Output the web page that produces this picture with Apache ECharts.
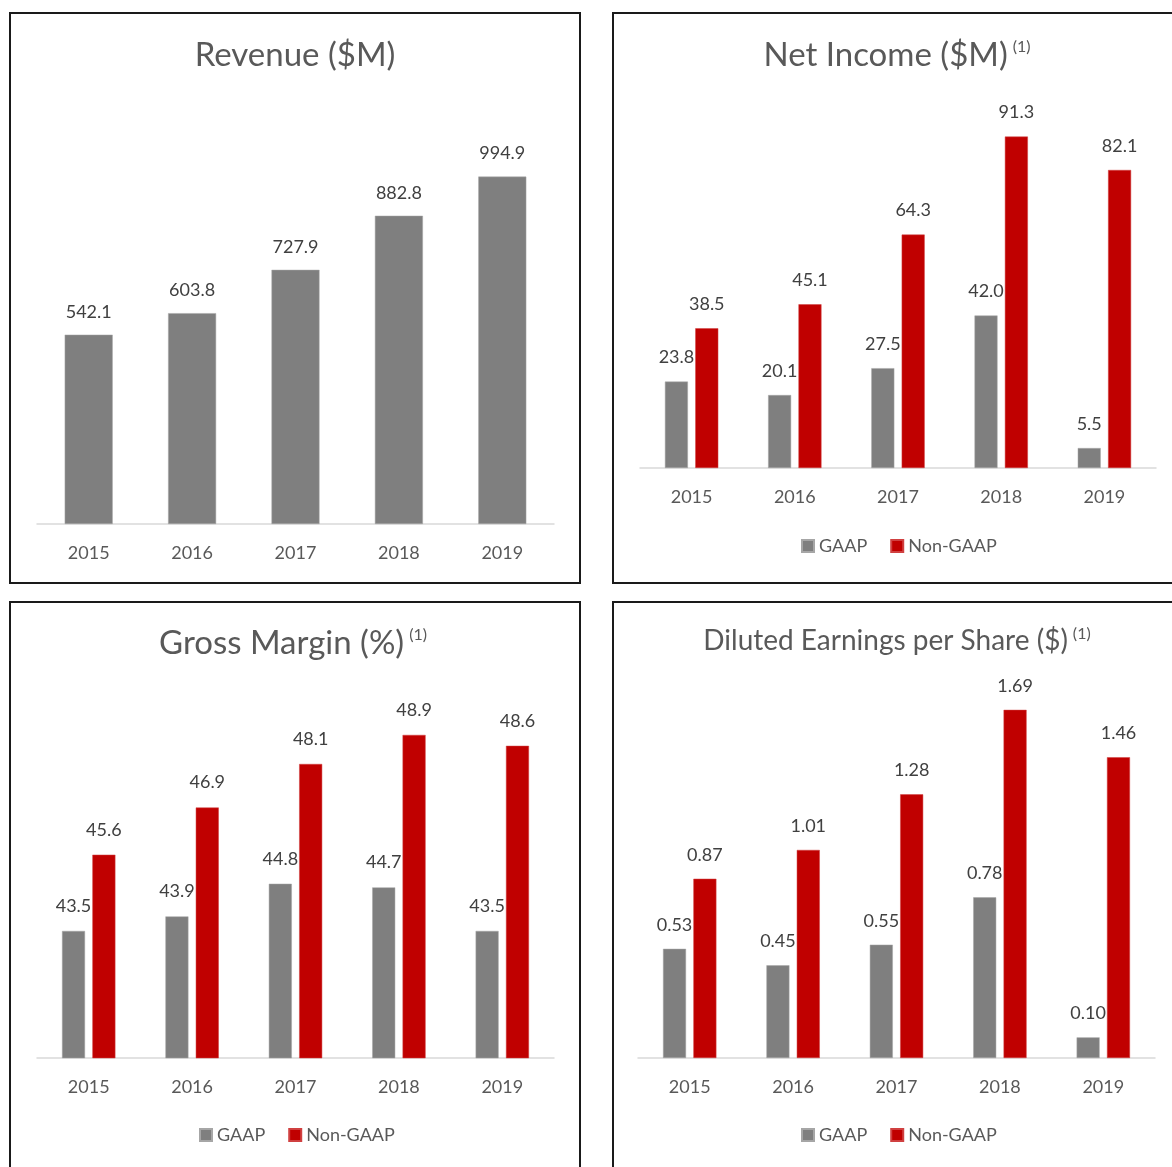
<!DOCTYPE html>
<html>
<head>
<meta charset="utf-8">
<script src="https://cdn.jsdelivr.net/npm/echarts@6/dist/echarts.min.js"></script>
<style>
html,body{margin:0;padding:0;background:#fff;}
#c{width:1172px;height:1167px;}
</style>
</head>
<body>
<div id="c"></div>
<script>
const years = ['2015', '2016', '2017', '2018', '2019'];
const revenue = [542.1, 603.8, 727.9, 882.8, 994.9];
const netIncomeGAAP = [23.8, 20.1, 27.5, 42.0, 5.5];
const netIncomeNonGAAP = [38.5, 45.1, 64.3, 91.3, 82.1];
const grossMarginGAAP = [43.5, 43.9, 44.8, 44.7, 43.5];
const grossMarginNonGAAP = [45.6, 46.9, 48.1, 48.9, 48.6];
const epsGAAP = [0.53, 0.45, 0.55, 0.78, 0.10];
const epsNonGAAP = [0.87, 1.01, 1.28, 1.69, 1.46];

const FONT = 'Lato';
const GRAY = '#7f7f7f';
const RED = '#c00000';
const TXT = '#595959';
const LBL = '#404040';

const grids = [
  {left: 37, top: 105, width: 517, height: 419},
  {left: 640, top: 105, width: 516, height: 363},
  {left: 37, top: 695, width: 517, height: 363},
  {left: 638, top: 646, width: 517, height: 412}
];
const yRanges = [[0, 1200], [0, 100], [40, 50], [0, 2]];

function xAxis(i) {
  return {
    type: 'category', gridIndex: i, data: years,
    axisLine: {lineStyle: {color: '#d9d9d9', width: 1.5}},
    axisTick: {show: false},
    axisLabel: {color: TXT, fontFamily: FONT, fontSize: 18, margin: 20}
  };
}
function yAxis(i) {
  return {type: 'value', gridIndex: i, min: yRanges[i][0], max: yRanges[i][1], show: false, splitLine: {show: false}};
}
function bar(i, name, data, color, width, dec, dist) {
  return {
    type: 'bar', name: name, xAxisIndex: i, yAxisIndex: i, data: data,
    barWidth: width, barGap: '32%',
    itemStyle: {color: color, borderColor: color === GRAY ? '#a6a6a6' : '#d04040', borderWidth: 0.5},
    label: {show: true, position: 'top', distance: dist, color: LBL, fontFamily: FONT, fontSize: 18,
      formatter: p => p.value.toFixed(dec)}
  };
}
function legend(x, y) {
  return {
    show: true, left: x, top: y, padding: 0, itemWidth: 12, itemHeight: 12, itemGap: 23,
    icon: 'rect', orient: 'horizontal',
    data: ['GAAP', 'Non-GAAP'].map(n => ({name: n})),
    textStyle: {color: TXT, fontFamily: FONT, fontSize: 18},
    selectedMode: false
  };
}
function title(text, sup, x, y, size) {
  return {
    text: sup ? '{m|' + text + '} {s|' + sup + '}' : '{m|' + text + '}',
    left: x, top: y, textAlign: 'center',
    textStyle: {
      fontWeight: 'normal',
      rich: {
        m: {fontFamily: FONT, fontSize: size, color: TXT, fontWeight: 'normal'},
        s: {fontFamily: FONT, fontSize: 16, color: TXT, fontWeight: 'normal', verticalAlign: 'top', padding: [0, 0, 14, 0]}
      }
    }
  };
}

const chart = echarts.init(document.getElementById('c'), null, {renderer: 'canvas'});

chart.setOption({
  animation: false,
  backgroundColor: '#fff',
  title: [
    title('Revenue ($M)', '', 290, 34, 33),
    title('Net Income ($M)', '(1)', 892, 34, 33),
    title('Gross Margin (%)', '(1)', 288, 622, 33),
    title('Diluted Earnings per Share ($)', '(1)', 892, 621, 28)
  ],
  legend: [
    legend(801, 537),
    legend(199, 1126),
    legend(801, 1126)
  ],
  grid: grids,
  xAxis: [xAxis(0), xAxis(1), xAxis(2), xAxis(3)],
  yAxis: [yAxis(0), yAxis(1), yAxis(2), yAxis(3)],
  series: [
    bar(0, 'Revenue', revenue, GRAY, 48, 1, 14),
    bar(1, 'GAAP', netIncomeGAAP, GRAY, 23, 1, 15),
    bar(1, 'Non-GAAP', netIncomeNonGAAP, RED, 23, 1, 15),
    bar(2, 'GAAP', grossMarginGAAP, GRAY, 23, 1, 16),
    bar(2, 'Non-GAAP', grossMarginNonGAAP, RED, 23, 1, 16),
    bar(3, 'GAAP', epsGAAP, GRAY, 23, 2, 15),
    bar(3, 'Non-GAAP', epsNonGAAP, RED, 23, 2, 15)
  ],
  graphic: [
    {type: 'rect', shape: {x: 10, y: 13, width: 570, height: 570}, style: {fill: 'none', stroke: '#1a1a1a', lineWidth: 2}, silent: true},
    {type: 'rect', shape: {x: 613, y: 13, width: 600, height: 570}, style: {fill: 'none', stroke: '#1a1a1a', lineWidth: 2}, silent: true},
    {type: 'rect', shape: {x: 10, y: 602, width: 570, height: 600}, style: {fill: 'none', stroke: '#1a1a1a', lineWidth: 2}, silent: true},
    {type: 'rect', shape: {x: 613, y: 602, width: 600, height: 600}, style: {fill: 'none', stroke: '#1a1a1a', lineWidth: 2}, silent: true}
  ]
});
</script>
</body>
</html>
